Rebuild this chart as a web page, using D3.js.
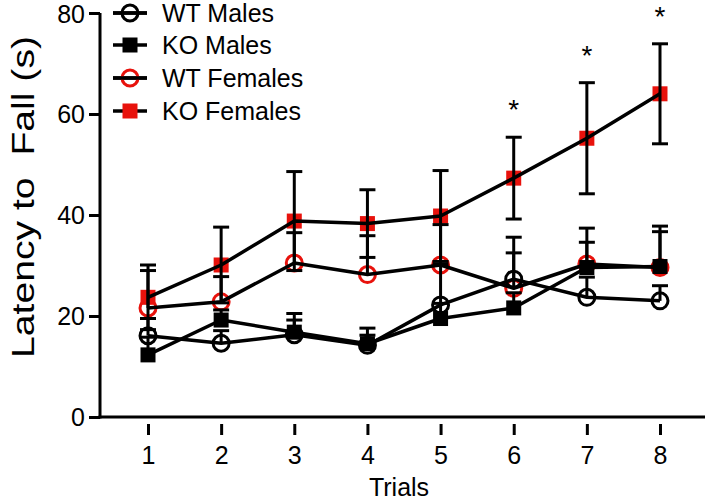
<!DOCTYPE html>
<html>
<head>
<meta charset="utf-8">
<script src="https://cdn.jsdelivr.net/npm/d3@7"></script>
<style>
  html, body { margin: 0; padding: 0; background: #fff; }
  svg { display: block; }
  text { font-family: "Liberation Sans", Arial, sans-serif; fill: #000; }
</style>
</head>
<body>
<svg id="chart" width="709" height="502"></svg>
<script>
// ---- data ----
const trials = [1, 2, 3, 4, 5, 6, 7, 8];
const xTickLabels = ["1", "2", "3", "4", "5", "6", "7", "8"];
const yTickValues = [0, 20, 40, 60, 80];

const seriesNames = ["WT Males", "KO Males", "WT Females", "KO Females"];
const wtMales      = [16.1, 14.6, 16.3, 14.2, 22.2, 27.3, 23.7, 23.0];
const wtMalesErr   = [3.4, 2.5, 2.9, 2.0, 8.0, 8.3, 4.0, 3.0];
const koMales      = [12.3, 19.2, 16.8, 14.5, 19.5, 21.6, 29.6, 29.8];
const koMalesErr   = [3.5, 2.0, 3.7, 3.1, 3.0, 3.0, 5.0, 6.9];
const wtFemales    = [21.6, 22.8, 30.5, 28.2, 30.1, 25.5, 30.3, 29.6];
const wtFemalesErr = [7.4, 5.0, 6.0, 7.7, 8.0, 7.0, 7.1, 8.2];
const koFemales    = [23.7, 30.1, 38.8, 38.3, 39.8, 47.3, 55.2, 64.0];
const koFemalesErr = [6.4, 7.5, 9.8, 6.7, 9.0, 8.1, 11.0, 9.9];
const significance = ["", "", "", "", "", "*", "*", "*"];

const xTitle = "Trials";
const yTitle = "Latency to  Fall (s)";

// ---- styles (kept apart from data) ----
const styles = {
  "WT Males":   { shape: "circle", color: "#000", filled: false, both: false },
  "KO Males":   { shape: "square", color: "#000", filled: true,  both: false },
  "WT Females": { shape: "circle", color: "#e8120c", filled: false, both: false },
  "KO Females": { shape: "square", color: "#e8120c", filled: true,  both: true }
};

const series = [
  { name: "WT Males",   values: wtMales,   errs: wtMalesErr },
  { name: "KO Males",   values: koMales,   errs: koMalesErr },
  { name: "WT Females", values: wtFemales, errs: wtFemalesErr },
  { name: "KO Females", values: koFemales, errs: koFemalesErr }
];

const svg = d3.select("#chart");

const x = d3.scaleLinear().domain([1, 8]).range([148, 660]);
const y = d3.scaleLinear().domain([0, 80]).range([417, 13]);

const axisColor = "#000";
const sw = 3;

// y axis
const yAxis = svg.append("g").attr("transform", "translate(100,0)")
  .call(d3.axisLeft(y).tickValues(yTickValues).tickSize(11).tickPadding(4).tickFormat(d3.format("d")));
yAxis.select(".domain").attr("stroke", axisColor).attr("stroke-width", sw)
  .attr("d", `M0,${y(80)}V${y(0) + 1.5}`);
yAxis.selectAll(".tick line").attr("stroke", axisColor).attr("stroke-width", sw);
yAxis.selectAll(".tick text").style("font-size", "25px").attr("fill", "#000");
yAxis.selectAll(".tick text").filter(d => d === 80).attr("dy", "0.38em");

// x axis line (spans the plot)
svg.append("line")
  .attr("x1", 100 - 1.5).attr("x2", 705)
  .attr("y1", y(0)).attr("y2", y(0))
  .attr("stroke", axisColor).attr("stroke-width", sw);

// x ticks offset below axis line
const xAxis = svg.append("g").attr("transform", `translate(0,${y(0) + 7})`)
  .call(d3.axisBottom(x).tickValues(trials).tickSize(11).tickPadding(11)
    .tickFormat((d, i) => xTickLabels[i]));
xAxis.select(".domain").remove();
xAxis.selectAll(".tick line").attr("stroke", axisColor).attr("stroke-width", sw);
xAxis.selectAll(".tick text").style("font-size", "25px").attr("fill", "#000");

// axis titles
svg.append("text")
  .attr("x", 399).attr("y", 496)
  .attr("text-anchor", "middle")
  .style("font-size", "25px")
  .text(xTitle);

svg.append("text")
  .attr("transform", `translate(34,${197}) rotate(-90)`)
  .attr("text-anchor", "middle")
  .attr("xml:space", "preserve")
  .style("white-space", "pre")
  .style("font-size", "31px")
  .attr("textLength", 322)
  .attr("lengthAdjust", "spacingAndGlyphs")
  .text(yTitle);

// marker drawing helper
function drawMarker(g, shape, color, filled, cx, cy) {
  if (shape === "circle") {
    g.append("circle").attr("cx", cx).attr("cy", cy).attr("r", 8)
      .attr("fill", "none").attr("stroke", color).attr("stroke-width", 3);
  } else {
    g.append("rect").attr("x", cx - 7.5).attr("y", cy - 7.5)
      .attr("width", 15).attr("height", 15)
      .attr("fill", color);
  }
}

const plot = svg.append("g");

// markers first (females then males so black sits on red)
const markerOrder = ["WT Females", "KO Females", "WT Males", "KO Males"];
const markerG = plot.append("g");
markerOrder.forEach(name => {
  const s = series.find(d => d.name === name);
  const st = styles[name];
  s.values.forEach((v, i) => drawMarker(markerG, st.shape, st.color, st.filled, x(trials[i]), y(v)));
});

// error bars
const errG = plot.append("g");
series.forEach(s => {
  const st = styles[s.name];
  s.values.forEach((v, i) => {
    const cx = x(trials[i]);
    const top = v + s.errs[i];
    const bot = st.both ? v - s.errs[i] : v;
    errG.append("line").attr("x1", cx).attr("x2", cx)
      .attr("y1", y(top)).attr("y2", y(bot))
      .attr("stroke", "#000").attr("stroke-width", 3);
    errG.append("line").attr("x1", cx - 8).attr("x2", cx + 8)
      .attr("y1", y(top)).attr("y2", y(top))
      .attr("stroke", "#000").attr("stroke-width", 3);
    if (st.both) {
      errG.append("line").attr("x1", cx - 8).attr("x2", cx + 8)
        .attr("y1", y(bot)).attr("y2", y(bot))
        .attr("stroke", "#000").attr("stroke-width", 3);
    }
  });
});

// lines
const line = d3.line().x((d, i) => x(trials[i])).y(d => y(d));
series.forEach(s => {
  plot.append("path").attr("d", line(s.values))
    .attr("fill", "none").attr("stroke", "#000").attr("stroke-width", 3.5)
    .attr("stroke-linejoin", "round");
});

// significance asterisks
significance.forEach((t, i) => {
  if (!t) return;
  svg.append("text")
    .attr("x", x(trials[i])).attr("y", y(koFemales[i] + koFemalesErr[i]) - 18)
    .attr("text-anchor", "middle")
    .style("font-size", "28px")
    .text(t);
});

// legend
const legendRows = [13, 45, 78, 111];
const legend = svg.append("g");
seriesNames.forEach((name, i) => {
  const st = styles[name];
  const ly = legendRows[i];
  legend.append("line").attr("x1", 113).attr("x2", 147).attr("y1", ly).attr("y2", ly)
    .attr("stroke", "#000").attr("stroke-width", 3.5);
  drawMarker(legend, st.shape, st.color, st.filled, 130, ly);
  if (st.shape === "circle") {
    legend.append("line").attr("x1", 113).attr("x2", 147).attr("y1", ly).attr("y2", ly)
      .attr("stroke", "#000").attr("stroke-width", 3.5);
  }
  legend.append("text").attr("x", 162).attr("y", ly)
    .attr("dy", "0.36em")
    .style("font-size", "25px")
    .text(name);
});
</script>
</body>
</html>
